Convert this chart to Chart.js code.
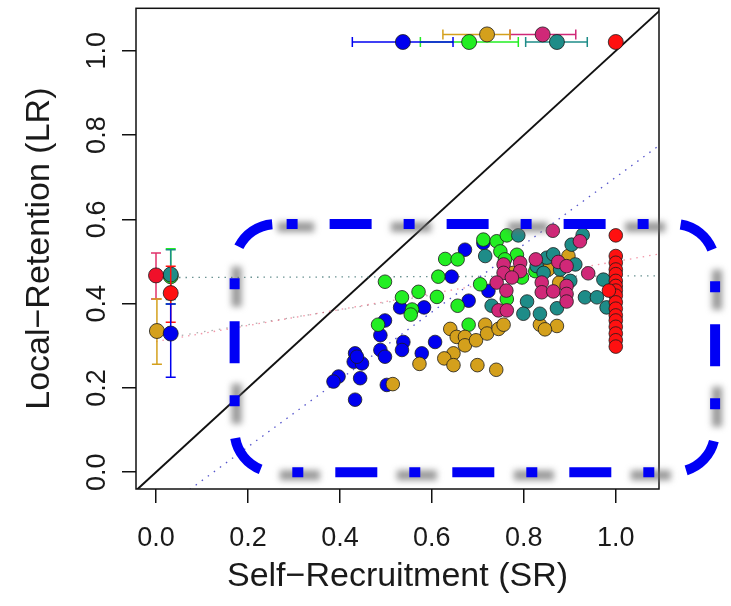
<!DOCTYPE html>
<html lang="en">
<head>
  <meta charset="UTF-8">
  <title>Self-Recruitment vs Local-Retention</title>
  <script src="https://cdn.jsdelivr.net/npm/chart.js"></script>
  <style>
    body { margin: 0; background: #fff; }
    #wrap { width: 731px; height: 606px; }
  </style>
</head>
<body>
<div id="wrap"><canvas id="srlr"></canvas></div>

<script>
  // values: SR on x, LR on y
  const blueSR = [0.672, 0.643, 0.680, 0.723, 0.583, 0.531, 0.498, 0.488, 0.538, 0.535, 0.607, 0.578, 0.488, 0.498, 0.433, 0.430, 0.448, 0.437, 0.397, 0.386, 0.444, 0.502, 0.433, 0.712];
  const blueLR = [0.528, 0.464, 0.407, 0.430, 0.391, 0.391, 0.360, 0.325, 0.309, 0.290, 0.309, 0.282, 0.290, 0.274, 0.282, 0.262, 0.258, 0.274, 0.227, 0.215, 0.223, 0.207, 0.172, 0.544];

  const greenSR = [0.712, 0.741, 0.763, 0.749, 0.785, 0.629, 0.656, 0.759, 0.614, 0.498, 0.705, 0.571, 0.611, 0.535, 0.557, 0.656, 0.763, 0.483, 0.680, 0.796, 0.825, 0.554];
  const greenLR = [0.552, 0.548, 0.562, 0.524, 0.516, 0.506, 0.505, 0.505, 0.464, 0.452, 0.446, 0.428, 0.416, 0.415, 0.386, 0.395, 0.411, 0.350, 0.350, 0.462, 0.477, 0.374];

  const goldSR = [0.897, 0.853, 0.877, 0.835, 0.872, 0.846, 0.640, 0.654, 0.672, 0.672, 0.696, 0.716, 0.720, 0.745, 0.756, 0.647, 0.627, 0.647, 0.573, 0.699, 0.740, 0.515, 0.777];
  const goldLR = [0.513, 0.481, 0.450, 0.350, 0.347, 0.339, 0.340, 0.321, 0.321, 0.301, 0.313, 0.350, 0.329, 0.340, 0.350, 0.282, 0.270, 0.254, 0.257, 0.254, 0.243, 0.209, 0.473];

  const tealSR = [0.788, 0.716, 0.828, 0.850, 0.864, 0.904, 0.928, 0.912, 0.901, 0.973, 0.933, 0.959, 0.980, 0.807, 0.799, 0.730, 0.835, 0.872, 0.843, 0.879];
  const tealLR = [0.562, 0.513, 0.489, 0.509, 0.517, 0.540, 0.563, 0.493, 0.454, 0.457, 0.415, 0.415, 0.391, 0.405, 0.376, 0.395, 0.376, 0.389, 0.473, 0.481];

  const pinkSR = [0.863, 0.922, 0.826, 0.756, 0.792, 0.756, 0.792, 0.774, 0.875, 0.893, 0.940, 0.741, 0.762, 0.839, 0.839, 0.864, 0.893, 0.893, 0.893, 0.745, 0.763, 0.991];
  const pinkLR = [0.573, 0.548, 0.505, 0.493, 0.497, 0.473, 0.477, 0.462, 0.499, 0.489, 0.472, 0.450, 0.431, 0.450, 0.427, 0.429, 0.442, 0.423, 0.405, 0.384, 0.384, 0.431];

  const redSR = [1.0, 1.0, 1.0, 1.0, 1.0, 1.0, 1.0, 1.0, 1.0, 1.0, 1.0, 1.0, 1.0, 1.0, 1.0, 1.0, 1.0, 0.985];
  const redLR = [0.562, 0.513, 0.497, 0.481, 0.470, 0.454, 0.442, 0.431, 0.419, 0.403, 0.388, 0.372, 0.360, 0.345, 0.329, 0.313, 0.298, 0.431];

  // group means with SR error bars (top row)
  const topSR = [0.537, 0.681, 0.720, 0.841, 0.872, 1.0];
  const topLR = [1.021, 1.021, 1.039, 1.039, 1.021, 1.021];
  const topLo = [0.427, 0.575, 0.624, 0.770, 0.804, null];
  const topHi = [0.646, 0.788, 0.770, 0.913, 0.938, null];
  const topCol = ['#0000f0', '#22ee22', '#d4a01c', '#d02878', '#1e8c88', '#ff1010'];

  // group means with LR error bars (left column)
  const sideSR = [0.032, 0.032, 0.0, 0.032, 0.002, 0.032];
  const sideLR = [0.465, 0.469, 0.467, 0.425, 0.335, 0.329];
  const sideLo = [0.399, 0.410, 0.411, 0.356, 0.256, 0.225];
  const sideHi = [0.530, 0.528, 0.520, 0.489, 0.411, 0.399];
  const sideCol = ['#22ee22', '#1e8c88', '#f0102a', '#ff1010', '#d4a01c', '#0000f0'];
  const sideBar = ['#22ee22', '#1e8c88', '#e0306a', '#ff1010', '#d4a01c', '#0000f0'];

  // faint fitted lines
  const tealFitSR = [0.05, 1.1], tealFitLR = [0.462, 0.466];
  const blueFitSR = [0.06, 1.1], blueFitLR = [-0.052, 0.780];
  const pinkFitSR = [0.0, 1.1], pinkFitLR = [0.310, 0.519];
  const greyFitSR = [0.04, 0.62], greyFitLR = [0.322, 0.424];

  const diagSR = [-0.1, 1.2], diagLR = [-0.1, 1.2];
  const tickVals = [0, 0.2, 0.4, 0.6, 0.8, 1.0];

  const pts = (xs, ys) => xs.map((x, i) => ({ x: x, y: ys[i] }));

  const cloud = (xs, ys, color, order) => ({
    data: pts(xs, ys), backgroundColor: color, borderColor: '#1c1c1c',
    borderWidth: 0.8, pointRadius: 6.8, pointHoverRadius: 6.8, order: order
  });

  const seg = (xs, ys, color, extra) => Object.assign({
    data: pts(xs, ys), showLine: true, borderColor: color, borderWidth: 1.5,
    pointRadius: 0, fill: false, order: 9
  }, extra);

  const datasets = [
    seg(diagSR, diagLR, '#111', { borderWidth: 2, order: 20 }),
    seg(tealFitSR, tealFitLR, 'rgba(70,120,120,0.8)', { borderWidth: 1.3, borderDash: [1.5, 5] }),
    seg(blueFitSR, blueFitLR, 'rgba(40,40,190,0.8)', { borderWidth: 1.3, borderDash: [1.5, 6] }),
    seg(pinkFitSR, pinkFitLR, 'rgba(235,80,110,0.6)', { borderWidth: 1.3, borderDash: [1.5, 5] }),
    seg(greyFitSR, greyFitLR, 'rgba(120,120,120,0.6)', { borderWidth: 1.3, borderDash: [1.5, 6] }),
    cloud(blueSR, blueLR, '#0000f0', 7),
    cloud(greenSR, greenLR, '#22ee22', 6),
    cloud(goldSR, goldLR, '#d4a01c', 5),
    cloud(tealSR, tealLR, '#1e8c88', 4),
    cloud(pinkSR, pinkLR, '#d02878', 3),
    cloud(redSR, redLR, '#ff1010', 2)
  ];

  topSR.forEach((x, i) => {
    if (topLo[i] !== null) {
      datasets.push(seg([topLo[i], topHi[i]], [topLR[i], topLR[i]], topCol[i], {
        pointStyle: 'line', pointRotation: 90, pointRadius: 5, pointBorderColor: topCol[i],
        pointBorderWidth: 1.5, order: 1
      }));
    }
    datasets.push(Object.assign(cloud([x], [topLR[i]], topCol[i], 0.5), { pointRadius: 7.5 }));
  });

  sideSR.forEach((x, i) => {
    datasets.push(seg([x, x], [sideLo[i], sideHi[i]], sideBar[i], {
      pointStyle: 'line', pointRotation: 0, pointRadius: 5, pointBorderColor: sideBar[i],
      pointBorderWidth: 1.5, order: 1 - i * 0.1
    }));
    datasets.push(Object.assign(cloud([x], [sideLR[i]], sideCol[i], 0.95 - i * 0.1), { pointRadius: 7.5 }));
  });

  // frame around the plot + the blue dashed call-out box
  const overlay = {
    id: 'overlay',
    afterDatasetsDraw(chart) {
      const { ctx, chartArea: a } = chart;
      ctx.save();
      ctx.strokeStyle = '#111';
      ctx.lineWidth = 1.5;
      ctx.strokeRect(a.left, a.top, a.right - a.left, a.bottom - a.top);
      ctx.restore();
    },
    afterDraw(chart, args, opts) {
      const { ctx, scales: { x, y } } = chart;
      const l = x.getPixelForValue(opts.sr[0]), r = x.getPixelForValue(opts.sr[1]);
      const t = y.getPixelForValue(opts.lr[1]), b = y.getPixelForValue(opts.lr[0]);
      const rad = opts.radius;
      const path = () => {
        ctx.beginPath();
        ctx.moveTo(l + rad, t);
        ctx.lineTo(r - rad, t);
        ctx.arcTo(r, t, r, t + rad, rad);
        ctx.lineTo(r, b - rad);
        ctx.arcTo(r, b, r - rad, b, rad);
        ctx.lineTo(l + rad, b);
        ctx.arcTo(l, b, l, b - rad, rad);
        ctx.lineTo(l, t + rad);
        ctx.arcTo(l, t, l + rad, t, rad);
      };
      ctx.save();
      ctx.lineWidth = 10;
      // soft grey shadow pieces
      ctx.translate(2, 3);
      ctx.filter = 'blur(3px)';
      ctx.strokeStyle = 'rgba(110,110,110,0.7)';
      ctx.setLineDash([40, 77]);
      ctx.lineDashOffset = 3.5;
      path();
      ctx.stroke();
      ctx.restore();

      ctx.save();
      ctx.lineWidth = 10;
      ctx.strokeStyle = '#0000f5';
      ctx.setLineDash([11, 32, 42, 32]);
      ctx.lineDashOffset = 106;
      path();
      ctx.stroke();
      ctx.restore();
    }
  };

  Chart.defaults.font.family = "'Liberation Sans', Arial, sans-serif";
  Chart.defaults.color = '#1a1a1a';

  new Chart(document.getElementById('srlr'), {
    type: 'scatter',
    data: { datasets: datasets },
    options: {
      responsive: true,
      maintainAspectRatio: false,
      animation: false,
      layout: { padding: { top: 3, right: 72, left: 0, bottom: 0 } },
      plugins: {
        legend: { display: false },
        tooltip: { enabled: false },
        overlay: { sr: [0.171, 1.216], lr: [0.0, 0.589], radius: 41 }
      },
      scales: {
        x: {
          min: -0.0435, max: 1.094,
          afterBuildTicks: s => { s.ticks = tickVals.map(v => ({ value: v })); },
          afterFit: s => { s.height = 117; s.paddingLeft = 0; s.paddingRight = 0; },
          ticks: { font: { size: 27 }, padding: 19, autoSkip: false, maxRotation: 0,
                   callback: v => v.toFixed(1) },
          grid: { drawOnChartArea: false, tickLength: 14, color: '#111', lineWidth: 1.5 },
          border: { display: false },
          title: { display: true, text: 'Self−Recruitment (SR)', font: { size: 34 },
                   padding: { top: 0, bottom: 9 } }
        },
        y: {
          min: -0.040, max: 1.101,
          afterBuildTicks: s => { s.ticks = tickVals.map(v => ({ value: v })); },
          afterFit: s => { s.width = 136; s.paddingTop = 0; s.paddingBottom = 0; },
          ticks: { font: { size: 27 }, padding: 6, autoSkip: false, minRotation: 90, maxRotation: 90,
                   crossAlign: 'center', callback: v => v.toFixed(1) },
          grid: { drawOnChartArea: false, tickLength: 14, color: '#111', lineWidth: 1.5 },
          border: { display: false },
          title: { display: true, text: 'Local−Retention (LR)', font: { size: 34 },
                   padding: { top: 19, bottom: 0 } }
        }
      }
    },
    plugins: [overlay]
  });
</script>

</body>
</html>
